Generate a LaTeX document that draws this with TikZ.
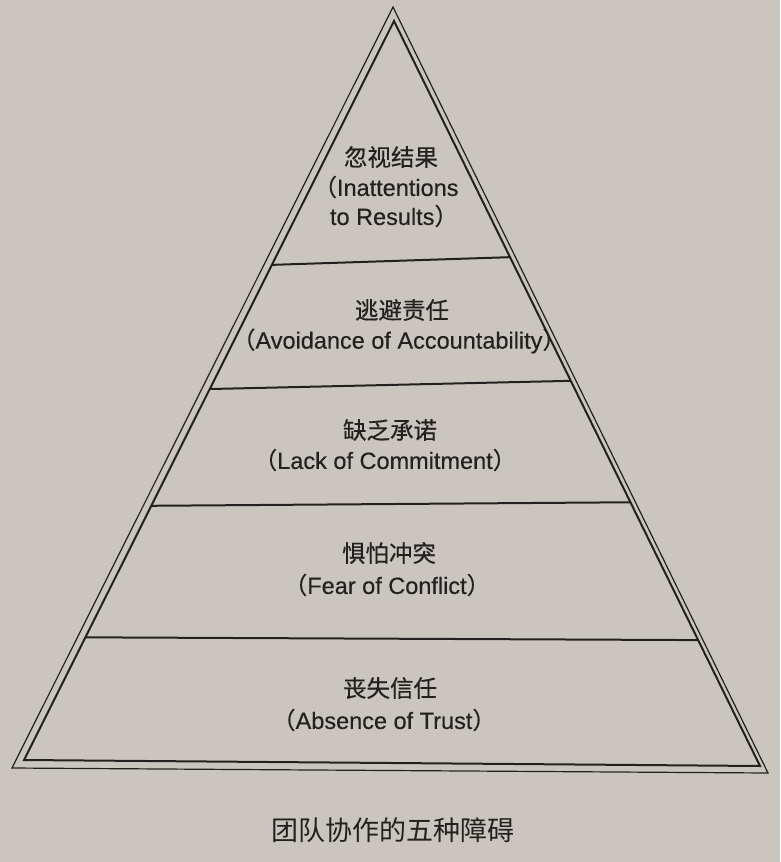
\documentclass[tikz,border=0pt]{standalone}
\usepackage{fontspec}
\setmainfont{Liberation Sans}[UprightFeatures={FakeBold=0.35}]
\newfontfamily\cjk{Noto Sans CJK SC}[UprightFeatures={FakeBold=0.5}]
\newfontfamily\cjkcap{Noto Sans CJK SC}
\usetikzlibrary{calc}
\definecolor{paper}{HTML}{CAC6BF}
\definecolor{ink}{HTML}{232120}
\tikzset{
  lbl/.style={text=ink, inner sep=0pt, font=\fontsize{23.5}{28}\selectfont},
  zh/.style={text=ink, inner sep=0pt, font=\cjk\fontsize{23.5}{28}\selectfont},
  captiontext/.style={text=ink, inner sep=0pt, font=\cjkcap\fontsize{27}{32}\selectfont},
  outerline/.style={draw=ink, line width=1.2pt, line join=miter},
  innerline/.style={draw=ink, line width=2pt, line join=miter},
  divider/.style={draw=ink, line width=2pt}
}
\newcommand{\lp}{{\cjk （}}
\newcommand{\rp}{{\cjk ）}}
\begin{document}
\begin{tikzpicture}[x=1pt,y=-1pt]
  \fill[paper] (0,0) rectangle (780,862);
  \useasboundingbox (0,0) rectangle (780,862);
  % triangle corners
  \coordinate (O) at (393,7);
  \coordinate (OL) at (12,768);
  \coordinate (OR) at (768,773);
  \coordinate (I) at (394,21);
  \coordinate (IL) at (24,760);
  \coordinate (IR) at (760,766);
  \draw[outerline] (O) -- (OL) -- (OR) -- cycle;
  \draw[innerline] (I) -- (IL) -- (IR) -- cycle;
  % dividers
  \coordinate (d1l) at ($(I)!0.330!(IL)$);
  \coordinate (d1r) at ($(I)!0.317!(IR)$);
  \coordinate (d2l) at ($(I)!0.498!(IL)$);
  \coordinate (d2r) at ($(I)!0.483!(IR)$);
  \coordinate (d3l) at ($(I)!0.656!(IL)$);
  \coordinate (d3r) at ($(I)!0.646!(IR)$);
  \coordinate (d4l) at ($(I)!0.834!(IL)$);
  \coordinate (d4r) at ($(I)!0.831!(IR)$);
  \draw[divider] (d1l) -- (d1r);
  \draw[divider] (d2l) -- (d2r);
  \draw[divider] (d3l) -- (d3r);
  \draw[divider] (d4l) -- (d4r);
  % labels
  \node[zh]  (t1a) at (391,157) {忽视结果};
  \node[lbl] (t1b) at (386,187) {\lp Inattentions};
  \node[lbl] (t1c) at (394,216) {to Results\rp};
  \node[zh]  (t2a) at (402,310) {逃避责任};
  \node[lbl] (t2b) at (399,341) {\lp Avoidance of Accountability\rp};
  \node[zh]  (t3a) at (390,430) {缺乏承诺};
  \node[lbl] (t3b) at (385,460) {\lp Lack of Commitment\rp};
  \node[zh]  (t4a) at (389,553) {惧怕冲突};
  \node[lbl] (t4b) at (387,585) {\lp Fear of Conflict\rp};
  \node[zh]  (t5a) at (390,688) {丧失信任};
  \node[lbl] (t5b) at (384,720) {\lp Absence of Trust\rp};
  \node[captiontext] (caption) at (393,830) {团队协作的五种障碍};
\end{tikzpicture}
\end{document}
